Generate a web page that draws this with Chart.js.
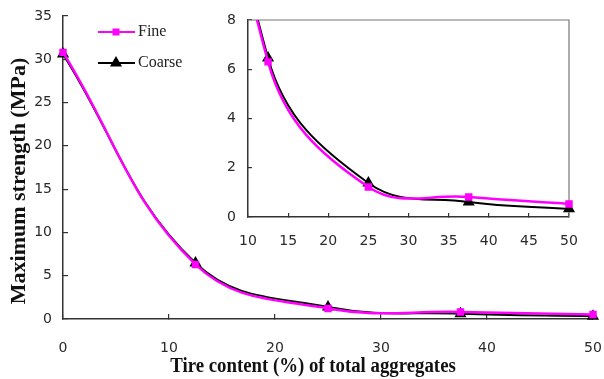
<!DOCTYPE html>
<html>
<head>
<meta charset="utf-8">
<script src="https://cdn.jsdelivr.net/npm/chart.js@4"></script>
<style>
  html, body { margin: 0; padding: 0; background: #fff; }
  #wrap { position: relative; width: 604px; height: 379px; }
  #mainChart { position: absolute; left: 0; top: 0; }
  #insetChart { position: absolute; left: 205px; top: 8px; }
</style>
</head>
<body>
<div id="wrap">
  <canvas id="mainChart" width="604" height="379"></canvas>
  <canvas id="insetChart" width="380" height="250"></canvas>
</div>
<script>
const TIRE_CONTENT = [0, 12.5, 25, 37.5, 50];
const FINE = [30.8, 6.3, 1.22, 0.81, 0.53];
const COARSE = [30.6, 6.46, 1.38, 0.61, 0.33];

const MAIN_X_TICKS = [0, 10, 20, 30, 40, 50];
const MAIN_Y_TICKS = [0, 5, 10, 15, 20, 25, 30, 35];
const INSET_X_TICKS = [10, 15, 20, 25, 30, 35, 40, 45, 50];
const INSET_Y_TICKS = [0, 2, 4, 6, 8];

const LEGEND_LABELS = ['Fine', 'Coarse'];
const X_TITLE = 'Tire content (%) of total aggregates';
const Y_TITLE = 'Maximum strength (MPa)';

const MAGENTA = '#ff00ff';
const TICK_FONT = { family: 'DejaVu Sans', size: 14 };

function toPoints(values) {
    return TIRE_CONTENT.map((x, i) => ({ x: x, y: values[i] }));
}

function fixedTicks(list) {
    return scale => { scale.ticks = list.map(v => ({ value: v })); };
}

function makeDatasets(clip) {
    return [
        {
            label: LEGEND_LABELS[0],
            data: toPoints(FINE),
            borderColor: MAGENTA,
            backgroundColor: MAGENTA,
            borderWidth: 2.5,
            pointStyle: 'rect',
            pointRadius: 3.5,
            tension: 0.4,
            clip: clip
        },
        {
            label: LEGEND_LABELS[1],
            data: toPoints(COARSE),
            borderColor: '#000',
            backgroundColor: '#000',
            borderWidth: 2,
            pointStyle: 'triangle',
            pointRadius: 5,
            tension: 0.4,
            clip: clip
        }
    ];
}

// legend in the upper left of the main plot + the two axis titles
const decorPlugin = {
    id: 'mainDecor',
    afterDraw(chart) {
        const ctx = chart.ctx;
        const rows = [
            { y: 32, color: MAGENTA, style: 'rect', text: LEGEND_LABELS[0] },
            { y: 63, color: '#000', style: 'triangle', text: LEGEND_LABELS[1] }
        ];
        ctx.save();
        rows.forEach(r => {
            ctx.strokeStyle = r.color;
            ctx.fillStyle = r.color;
            ctx.lineWidth = 2;
            ctx.beginPath();
            ctx.moveTo(98, r.y);
            ctx.lineTo(135, r.y);
            ctx.stroke();
            Chart.helpers.drawPoint(ctx, {
                pointStyle: r.style, radius: r.style === 'rect' ? 3.5 : 5, rotation: 0, borderWidth: 1
            }, 116, r.y);
            ctx.fillStyle = '#222';
            ctx.font = '16px "Liberation Serif"';
            ctx.textBaseline = 'middle';
            ctx.textAlign = 'left';
            ctx.fillText(r.text, 138, r.y);
        });

        ctx.fillStyle = '#111';
        ctx.textAlign = 'center';
        ctx.textBaseline = 'middle';

        // x title, a little condensed like the original
        ctx.save();
        ctx.translate(313, 367);
        ctx.scale(0.94, 1);
        ctx.font = 'bold 20px "Liberation Serif"';
        ctx.fillText(X_TITLE, 0, 0);
        ctx.restore();

        ctx.save();
        ctx.translate(19, 181);
        ctx.rotate(-Math.PI / 2);
        ctx.font = 'bold 22px "Liberation Serif"';
        ctx.fillText(Y_TITLE, 0, 0);
        ctx.restore();

        ctx.restore();
    }
};

// top and right border of the inset
const framePlugin = {
    id: 'insetFrame',
    beforeDatasetsDraw(chart) {
        const a = chart.chartArea;
        const ctx = chart.ctx;
        ctx.save();
        ctx.strokeStyle = '#777';
        ctx.lineWidth = 1.2;
        ctx.beginPath();
        ctx.moveTo(a.left, a.top);
        ctx.lineTo(a.right, a.top);
        ctx.lineTo(a.right, a.bottom);
        ctx.stroke();
        ctx.restore();
    }
};

function axis(opts) {
    return {
        type: 'linear',
        min: opts.min,
        max: opts.max,
        afterBuildTicks: fixedTicks(opts.ticks),
        afterFit: scale => {
            if (opts.width !== undefined) scale.width = opts.width;
            if (opts.height !== undefined) scale.height = opts.height;
            scale.paddingLeft = scale.paddingRight = scale.paddingTop = scale.paddingBottom = 0;
        },
        grid: { drawOnChartArea: false, tickLength: -opts.tick, color: '#333', lineWidth: 1.2 },
        border: { color: '#333', width: 1.5 },
        ticks: { font: TICK_FONT, color: '#2a2a2a', padding: opts.pad, maxRotation: 0, autoSkip: false },
        title: { display: false }
    };
}

new Chart(document.getElementById('mainChart').getContext('2d'), {
    type: 'line',
    data: { datasets: makeDatasets(false) },
    options: {
        responsive: false,
        animation: false,
        layout: { padding: { top: 16, right: 11, left: 0, bottom: 0 } },
        plugins: { legend: { display: false }, tooltip: { enabled: false } },
        scales: {
            x: axis({ min: 0, max: 50, ticks: MAIN_X_TICKS, height: 60, tick: 5, pad: 26 }),
            y: axis({ min: 0, max: 35, ticks: MAIN_Y_TICKS, width: 63, tick: 5, pad: 16 })
        }
    },
    plugins: [decorPlugin]
});

new Chart(document.getElementById('insetChart').getContext('2d'), {
    type: 'line',
    data: { datasets: makeDatasets({ left: 0, top: 0, right: 8, bottom: 8 }) },
    options: {
        responsive: false,
        animation: false,
        layout: { padding: { top: 12, right: 16, left: 0, bottom: 0 } },
        plugins: { legend: { display: false }, tooltip: { enabled: false } },
        scales: {
            x: axis({ min: 10, max: 50, ticks: INSET_X_TICKS, height: 41, tick: 4, pad: 20 }),
            y: axis({ min: 0, max: 8, ticks: INSET_Y_TICKS, width: 43, tick: 4, pad: 16 })
        }
    },
    plugins: [framePlugin]
});
</script>
</body>
</html>
